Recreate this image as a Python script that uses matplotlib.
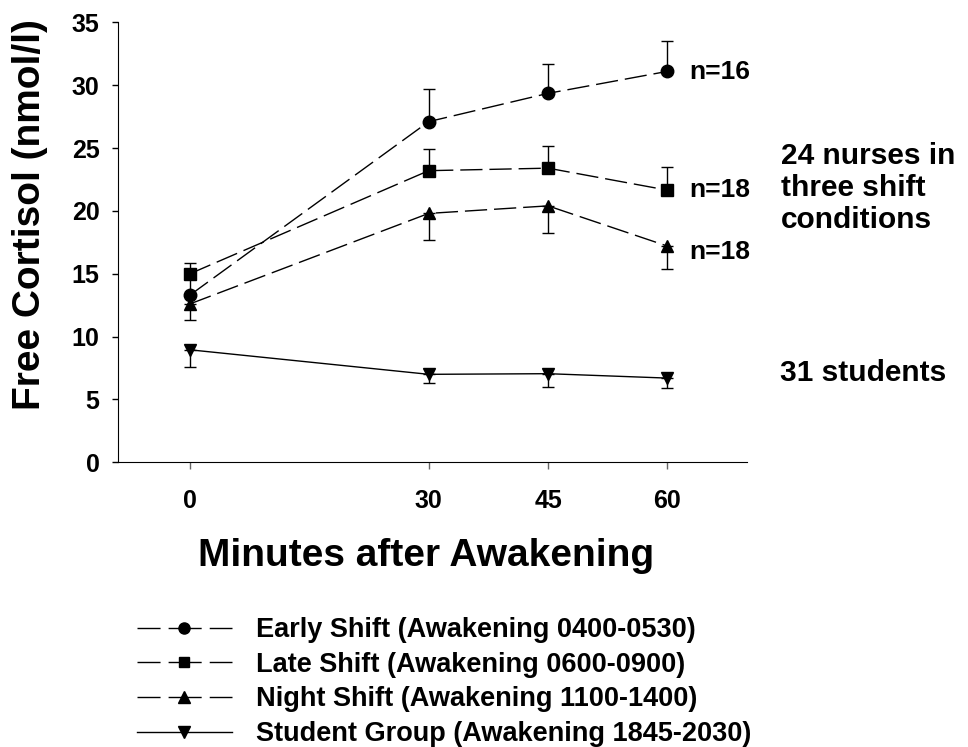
import matplotlib.pyplot as plt
from matplotlib.lines import Line2D
import numpy as np

plt.rcParams['font.family'] = ['Liberation Sans', 'DejaVu Sans']
plt.rcParams['font.weight'] = 'bold'

# Minutes after awakening
minutes = [0, 30, 45, 60]

# Mean free cortisol (nmol/l) per group
early = [13.3, 27.1, 29.35, 31.1]
late = [15.0, 23.2, 23.4, 21.65]
night = [12.6, 19.8, 20.4, 17.2]
student = [8.95, 7.0, 7.05, 6.7]

# Error bars (only one side is drawn per group)
early_err = [1.5, 2.6, 2.3, 2.45]
late_err = [0.85, 1.75, 1.75, 1.85]
night_err = [1.3, 2.1, 2.15, 1.8]
student_err = [1.35, 0.7, 1.05, 0.8]

labels = ['Early Shift (Awakening 0400-0530)',
          'Late Shift (Awakening 0600-0900)',
          'Night Shift (Awakening 1100-1400)',
          'Student Group (Awakening 1845-2030)']

fig = plt.figure(figsize=(9.68, 7.47), dpi=100)
ax = fig.add_axes([0.1222, 0.3811, 0.6495, 0.589])

dash = (0, (16, 5))
legend_dash = (0, (16.6, 5.8, 23.8, 5.8, 16.6, 80))
zeros = np.zeros(4)

series = [
    (early, [zeros, early_err], 'o', 9, dash),
    (late, [zeros, late_err], 's', 8, dash),
    (night, [night_err, zeros], '^', 9, dash),
    (student, [student_err, zeros], 'v', 9, '-'),
]

handles = []
for (vals, err, mk, ms, ls), lab in zip(series, labels):
    ax.errorbar(minutes, vals, yerr=err, fmt='none', ecolor='black',
                elinewidth=1, capsize=4, capthick=1, zorder=2)
    ax.plot(minutes, vals, color='black', lw=1, linestyle=ls,
            marker=mk, markersize=ms, markerfacecolor='black',
            markeredgecolor='black', zorder=3)
    # legend proxy with a symmetric dash pattern
    hls = legend_dash if ls != '-' else '-'
    handles.append(Line2D([], [], color='black', lw=1, linestyle=hls, marker=mk,
                          markersize=ms - 1, label=lab))

ax.set_xlim(-9, 70)
ax.set_ylim(0, 35)
ax.set_xticks(minutes)
ax.set_yticks(np.arange(0, 36, 5))
ax.spines['top'].set_visible(False)
ax.spines['right'].set_visible(False)
ax.tick_params(axis='y', direction='out', length=4.5, width=1, pad=9, labelsize=18)
ax.tick_params(axis='x', direction='out', length=5, width=1, pad=14, labelsize=18,
               color='#666666')
for t in ax.get_xticklabels() + ax.get_yticklabels():
    t.set_fontweight('bold')

ax.set_xlabel('Minutes after Awakening', fontsize=28, fontweight='bold')
ax.set_ylabel('Free Cortisol (nmol/l)', fontsize=28, fontweight='bold')
ax.xaxis.set_label_coords(0.49, -0.171)
ax.yaxis.set_label_coords(-0.112, 0.562)

# group sizes at the last time point
ax.text(62.8, 31.05, 'n=16', fontsize=19, fontweight='bold', va='center', ha='left',
        clip_on=False)
ax.text(62.8, 21.65, 'n=18', fontsize=19, fontweight='bold', va='center', ha='left',
        clip_on=False)
ax.text(62.8, 16.75, 'n=18', fontsize=19, fontweight='bold', va='center', ha='left',
        clip_on=False)

fig.text(781 / 968, 1 - 188 / 747, '24 nurses in\nthree shift\nconditions',
         fontsize=21.5, fontweight='bold', ha='left', va='center', linespacing=1.17)
fig.text(780 / 968, 1 - 373 / 747, '31 students',
         fontsize=21.5, fontweight='bold', ha='left', va='center')

fig.legend(handles=handles, loc='upper left', bbox_to_anchor=(137 / 968, 1 - 617 / 747),
           frameon=False, handlelength=3.5, handletextpad=0.9,
           labelspacing=0.32, borderpad=0, borderaxespad=0, numpoints=1,
           prop={'weight': 'bold', 'size': 19.5})

plt.savefig('out.png', dpi=100)
